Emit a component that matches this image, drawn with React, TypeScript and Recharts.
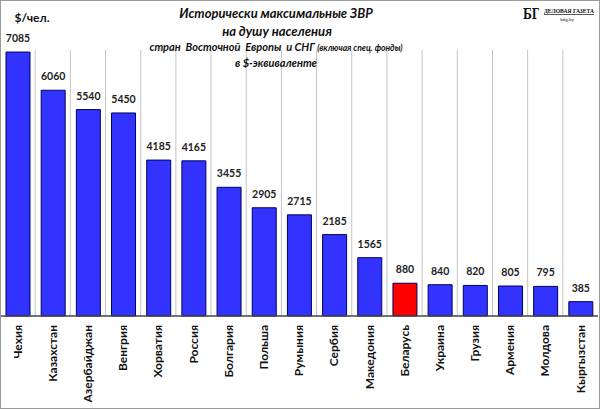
import React from "react";
import { BarChart, Bar, XAxis, YAxis, CartesianGrid, LabelList, Cell } from "recharts";

const countries = [
  "Чехия", "Казахстан", "Азербайджан", "Венгрия", "Хорватия", "Россия", "Болгария",
  "Польша", "Румыния", "Сербия", "Македония", "Беларусь", "Украина", "Грузия",
  "Армения", "Молдова", "Кыргызстан",
];
const reserves = [7085, 6060, 5540, 5450, 4185, 4165, 3455, 2905, 2715, 2185, 1565, 880, 840, 820, 805, 795, 385];
const highlighted = "Беларусь";

const data = countries.map((name, i) => ({ name, value: reserves[i] }));

const FONT = "Lato, 'Open Sans', sans-serif";
const BLUE = "#3333ff";
const RED = "#ff0000";

const XTick = (props: any) => {
  const { x, y, payload } = props;
  return (
    <text
      x={x}
      y={y}
      transform={`rotate(-90, ${x}, ${y})`}
      textAnchor="end"
      dy="0.35em"
      fontFamily={FONT}
      fontWeight={700}
      fontSize={12}
      fill="#111"
    >
      {payload.value}
    </text>
  );
};

const gridGen = ({ offset }: any) => {
  const n = countries.length;
  const arr: number[] = [];
  for (let i = 1; i < n; i++) arr.push(offset.left + (i * offset.width) / n);
  return arr;
};

export default function App() {
  return (
    <div
      style={{
        position: "absolute",
        left: 0,
        top: 0,
        width: 600,
        height: 409,
        background: "#fff",
        boxSizing: "border-box",
        border: "1px solid #9a9a9a",
      }}
    >
      <BarChart
        width={598}
        height={407}
        data={data}
        margin={{ top: 49, right: 1, left: -1, bottom: 0 }}
        barSize={24}
      >
        <CartesianGrid horizontal={false} vertical stroke="#c4c4c4" verticalCoordinatesGenerator={gridGen} />
        <XAxis
          dataKey="name"
          interval={0}
          height={92}
          tickLine={false}
          tickSize={0}
          tickMargin={9}
          axisLine={{ stroke: "#444", strokeWidth: 1.5 }}
          tick={<XTick />}
        />
        <YAxis hide domain={[0, 7140]} />
        <Bar dataKey="value" stroke="#000060" strokeWidth={1} isAnimationActive={false}>
          {data.map((d) => (
            <Cell key={d.name} fill={d.name === highlighted ? RED : BLUE} />
          ))}
          <LabelList
            dataKey="value"
            position="top"
            offset={10}
            fontFamily={FONT}
            fontWeight={700}
            fontSize={10.5}
            fill="#222"
          />
        </Bar>
      </BarChart>
      <svg
        width={600}
        height={409}
        style={{ position: "absolute", left: -1, top: -1, pointerEvents: "none" }}
      >
        <g fontFamily={FONT} fontWeight={700} fill="#111">
          <text x={32} y={17} textAnchor="middle" dominantBaseline="central" fontSize={12}>
            $/чел.
          </text>
          <g fontStyle="italic" textAnchor="middle">
            <text x={276} y={18} fontSize={13}>Исторически максимальные ЗВР</text>
            <text x={277} y={36} fontSize={13}>на душу населения</text>
            <text x={276} y={51} fontSize={11}>
              {"стран\u00a0 Восточной\u00a0 Европы\u00a0 и СНГ "}
              <tspan fontSize={8.5}>(включая спец. фонды)</tspan>
            </text>
            <text x={276} y={67} fontSize={11}>в $-эквиваленте</text>
          </g>
          <text
            x={523}
            y={19}
            fontFamily="'DejaVu Serif', serif"
            fontSize={14}
            fontWeight={700}
            textLength={16}
            lengthAdjust="spacingAndGlyphs"
          >
            БГ
          </text>
          <text
            x={544}
            y={13}
            fontFamily="'Liberation Serif', serif"
            fontSize={7}
            fontWeight={700}
            textDecoration="underline"
            textLength={50}
            lengthAdjust="spacingAndGlyphs"
          >
            ДЕЛОВАЯ ГАЗЕТА
          </text>
          <text x={567} y={21} textAnchor="middle" fontFamily="'Liberation Serif', serif" fontSize={5} fontWeight={400}>
            bdg.by
          </text>
        </g>
      </svg>
    </div>
  );
}
